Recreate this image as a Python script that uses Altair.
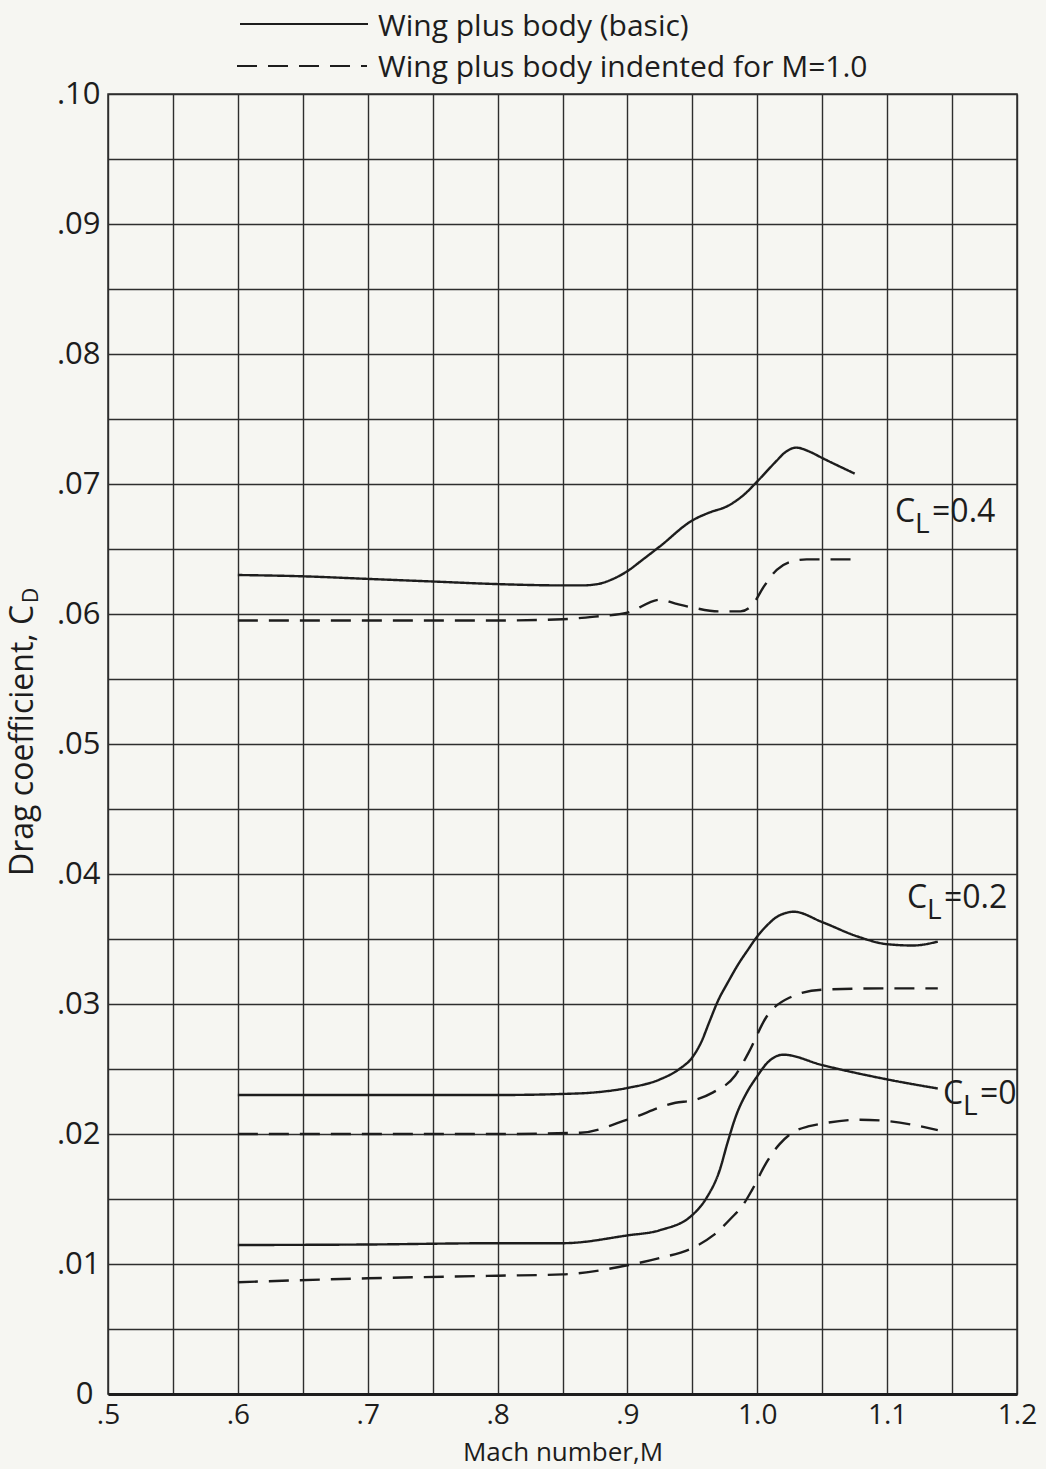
import altair as alt
import pandas as pd

# ---------------- data ----------------
# C_L = 0.4, wing plus body (basic)
M_04_basic = [0.60, 0.65, 0.70, 0.75, 0.80, 0.85, 0.865, 0.877, 0.889, 0.90, 0.912, 0.925, 0.95, 0.963,
              0.977, 0.99, 1.00, 1.015, 1.021, 1.03, 1.04, 1.05, 1.075]
CD_04_basic = [0.0630, 0.0629, 0.0627, 0.0625, 0.0623, 0.0622, 0.0622, 0.0623, 0.0627, 0.0633, 0.0642,
               0.0652, 0.0672, 0.0678, 0.0683, 0.0692, 0.0702, 0.0718, 0.0724, 0.0728, 0.0725,
               0.0720, 0.0708]
# C_L = 0.4, indented body
M_04_ind = [0.60, 0.70, 0.80, 0.85, 0.875, 0.90, 0.925, 0.937, 0.95, 0.97, 0.987, 0.997, 1.005,
            1.015, 1.025, 1.038, 1.05, 1.075]
CD_04_ind = [0.0595, 0.0595, 0.0595, 0.0596, 0.0598, 0.0601, 0.0611, 0.0608, 0.0605, 0.0602, 0.0602,
             0.0608, 0.0621, 0.0634, 0.0640, 0.0642, 0.0642, 0.0642]
# C_L = 0.2, basic
M_02_basic = [0.60, 0.70, 0.80, 0.85, 0.875, 0.90, 0.925, 0.94, 0.95, 0.957, 0.963, 0.97, 0.977,
              0.985, 0.993, 1.00, 1.008, 1.015, 1.022, 1.028, 1.05, 1.077, 1.10, 1.12, 1.139]
CD_02_basic = [0.0230, 0.0230, 0.0230, 0.02308, 0.0232, 0.02354, 0.0242, 0.0250, 0.0259, 0.0271,
               0.0286, 0.0303, 0.0316, 0.0330, 0.0342, 0.0352, 0.0361, 0.0367, 0.0370, 0.0371,
               0.0363, 0.0352, 0.0346, 0.0345, 0.0348]
# C_L = 0.2, indented
M_02_ind = [0.60, 0.70, 0.80, 0.864, 0.90, 0.937, 0.951, 0.966, 0.983, 0.993, 1.007, 1.025, 1.05,
            1.10, 1.139]
CD_02_ind = [0.0200, 0.0200, 0.0200, 0.0201, 0.0211, 0.0224, 0.0226, 0.0232, 0.0245, 0.0262, 0.0290,
             0.0305, 0.0311, 0.0312, 0.0312]
# C_L = 0, basic
M_0_basic = [0.60, 0.70, 0.80, 0.85, 0.90, 0.925, 0.95, 0.961, 0.971, 0.977, 0.984, 0.992, 1.00,
             1.007, 1.02, 1.05, 1.10, 1.139]
CD_0_basic = [0.01146, 0.0115, 0.0116, 0.0116, 0.0122, 0.0126, 0.01377, 0.0151, 0.0172, 0.0193,
              0.0215, 0.0232, 0.02445, 0.0254, 0.0261, 0.0253, 0.0242, 0.0235]
# C_L = 0, indented
M_0_ind = [0.60, 0.70, 0.80, 0.85, 0.90, 0.925, 0.95, 0.966, 0.98, 0.989, 0.996, 1.007, 1.017,
           1.027, 1.04, 1.05, 1.079, 1.10, 1.139]
CD_0_ind = [0.0086, 0.0089, 0.0091, 0.0092, 0.0099, 0.01046, 0.01123, 0.0122, 0.01354, 0.01454,
            0.0157, 0.0178, 0.0192, 0.0201, 0.0206, 0.0208, 0.0211, 0.0210, 0.0203]

series = [
    ("CL0.4 basic", "basic", M_04_basic, CD_04_basic),
    ("CL0.4 indented", "indented", M_04_ind, CD_04_ind),
    ("CL0.2 basic", "basic", M_02_basic, CD_02_basic),
    ("CL0.2 indented", "indented", M_02_ind, CD_02_ind),
    ("CL0 basic", "basic", M_0_basic, CD_0_basic),
    ("CL0 indented", "indented", M_0_ind, CD_0_ind),
]
rows = []
for name, style, ms, cds in series:
    for i, (m, c) in enumerate(zip(ms, cds)):
        rows.append({"curve": name, "style": style, "M": m, "CD": c, "order": i})
df = pd.DataFrame(rows)

label_names = ["C", "C", "C"]
label_subs = ["L", "L", "L"]
label_rest = ["=0.4", "=0.2", "=0"]
label_M = [1.1061, 1.1153, 1.143]
label_CD = [0.06785, 0.03815, 0.02308]
lab = pd.DataFrame({"C": label_names, "L": label_subs, "rest": label_rest,
                    "M": label_M, "CD": label_CD})

x_ticks = [round(0.5 + 0.05 * i, 2) for i in range(15)]
y_ticks = [round(0.005 * i, 3) for i in range(21)]

# ---------------- styling ----------------
FONT = "Open Sans"
INK = "#1d1d1d"
GRID = "#2e2e2e"
PAPER = "#f6f6f2"
DASH = [20, 11]

x_scale = alt.Scale(domain=[0.5, 1.2], nice=False, zero=False)
y_scale = alt.Scale(domain=[0.0, 0.1], nice=False, zero=False)

x_axis = alt.Axis(
    values=x_ticks, grid=True, gridColor=GRID, gridWidth=1.4, gridOpacity=1,
    ticks=False, domain=True, domainColor=INK, domainWidth=3,
    labelExpr="round(datum.value*20) % 2 == 1 ? '' : (datum.value < 1 ? replace(format(datum.value, '.1f'), '0.', '.') : format(datum.value, '.1f'))",
    labelOverlap=False, labelFlush=False, labelFont=FONT, labelFontSize=28,
    labelColor=INK, labelBaseline="alphabetic", labelPadding=29,
    title="Mach number,M", titleFont=FONT, titleFontSize=26, titleFontWeight="normal",
    titleColor=INK, titleBaseline="alphabetic", titleY=66,
)
y_axis = alt.Axis(
    values=y_ticks, grid=True, gridColor=GRID, gridWidth=1.4, gridOpacity=1,
    ticks=False, domain=False,
    labelExpr="round(datum.value*200) % 2 == 1 ? '' : (datum.value == 0 ? '0' : replace(format(datum.value, '.2f'), '0.', '.'))",
    labelOverlap=False, labelFlush=False, labelFont=FONT, labelFontSize=31,
    labelColor=INK,
    labelPadding={"condition": {"test": "datum.value == 0", "value": 15}, "value": 8},
    title=None,
)

curves = alt.Chart(df).mark_line(interpolate="monotone", strokeWidth=2.4, color=INK).encode(
    x=alt.X("M:Q", scale=x_scale, axis=x_axis),
    y=alt.Y("CD:Q", scale=y_scale, axis=y_axis),
    detail="curve:N",
    order="order:Q",
    strokeDash=alt.StrokeDash("style:N", scale=alt.Scale(domain=["basic", "indented"],
                                                          range=[[1, 0], DASH]), legend=None),
)

# curve labels C_L = ...
lab_base = alt.Chart(lab).encode(x=alt.X("M:Q", scale=x_scale), y=alt.Y("CD:Q", scale=y_scale))
lab_c = lab_base.mark_text(font=FONT, fontSize=32, align="left", baseline="middle", color=INK).encode(text="C:N")
lab_l = lab_base.mark_text(font=FONT, fontSize=28, align="left", baseline="middle", color=INK,
                           dx=20, dy=13).encode(text="L:N")
lab_r = lab_base.mark_text(font=FONT, fontSize=32, align="left", baseline="middle", color=INK,
                           dx=37).encode(text="rest:N")

# y-axis title with subscript
one = pd.DataFrame({"CD": [0.0607]})
ytitle = alt.Chart(one).mark_text(text="Drag coefficient, C", font=FONT, fontSize=32, angle=270,
                                  align="right", baseline="alphabetic", color=INK).encode(
    x=alt.value(-75), y=alt.Y("CD:Q", scale=y_scale))
ytitle_sub = alt.Chart(one).mark_text(text="D", font=FONT, fontSize=21, angle=270,
                                      align="left", baseline="alphabetic", color=INK, dx=2).encode(
    x=alt.value(-70), y=alt.Y("CD:Q", scale=y_scale))

# custom legend at top
leg_df = pd.DataFrame({"k": [0]})
leg_solid = alt.Chart(leg_df).mark_rule(color=INK, strokeWidth=2.2).encode(
    x=alt.value(132), x2=alt.value(260), y=alt.value(-70))
leg_dash = alt.Chart(leg_df).mark_rule(color=INK, strokeWidth=2.2, strokeDash=DASH).encode(
    x=alt.value(129), x2=alt.value(259), y=alt.value(-28))
leg_t1 = alt.Chart(leg_df).mark_text(text="Wing plus body (basic)", font=FONT, fontSize=30,
                                     align="left", baseline="alphabetic", color=INK).encode(
    x=alt.value(270), y=alt.value(-58))
leg_t2 = alt.Chart(leg_df).mark_text(text="Wing plus body indented for M=1.0", font=FONT, fontSize=30,
                                     align="left", baseline="alphabetic", color=INK).encode(
    x=alt.value(270), y=alt.value(-17))

chart = alt.layer(
    curves, lab_c, lab_l, lab_r, ytitle, ytitle_sub, leg_solid, leg_dash, leg_t1, leg_t2
).properties(
    width=909, height=1300,
    autosize=alt.AutoSizeParams(type="none"),
    padding={"left": 108, "top": 94, "right": 29, "bottom": 75},
    background=PAPER,
).configure_view(stroke=GRID, strokeWidth=1.5)

chart.save("out.html", embed_options={"renderer": "svg", "actions": False})
